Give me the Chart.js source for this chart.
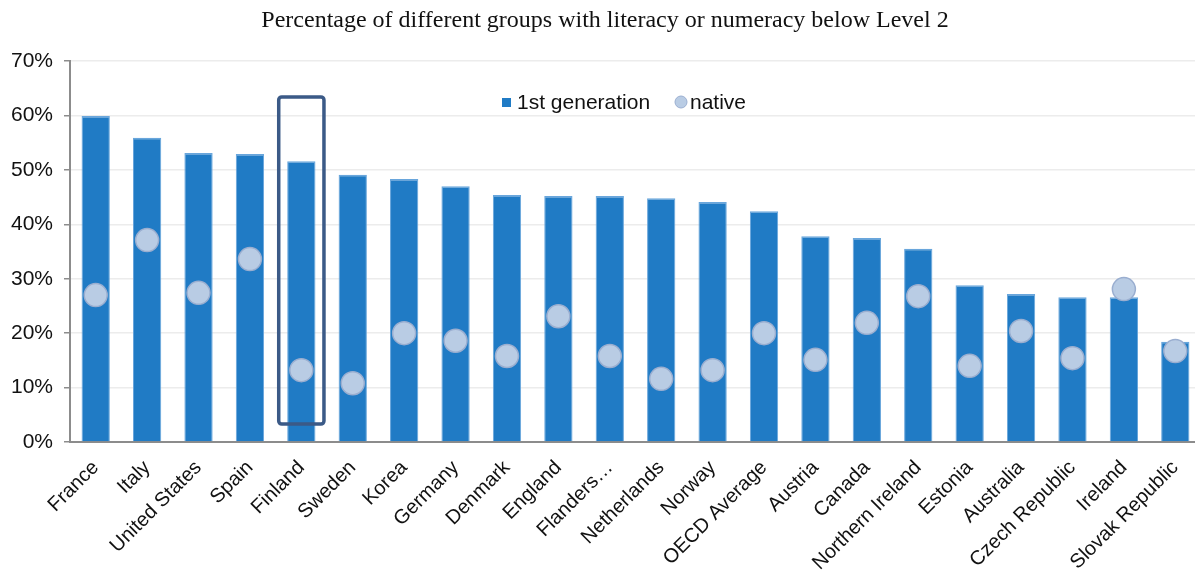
<!DOCTYPE html>
<html>
<head>
<meta charset="utf-8">
<script src="https://cdn.jsdelivr.net/npm/chart.js@4/dist/chart.umd.min.js"></script>
<style>
  html, body { margin: 0; padding: 0; background: #fff; overflow: hidden; }
  #wrap { width: 1195px; height: 577px; position: relative; overflow: hidden; }
</style>
</head>
<body>
<div id="wrap"><canvas id="c" width="1214" height="577"></canvas></div>
<script>
const titleText = 'Percentage of different groups with literacy or numeracy below Level 2';
const categories = ['France', 'Italy', 'United States', 'Spain', 'Finland', 'Sweden', 'Korea', 'Germany',
  'Denmark', 'England', 'Flanders…', 'Netherlands', 'Norway', 'OECD Average', 'Austria', 'Canada',
  'Northern Ireland', 'Estonia', 'Australia', 'Czech Republic', 'Ireland', 'Slovak Republic'];
const firstGeneration = [59.9, 55.9, 53.1, 52.9, 51.6, 49.1, 48.3, 47.0, 45.4, 45.2, 45.2, 44.8, 44.1,
  42.4, 37.8, 37.5, 35.5, 28.8, 27.2, 26.6, 26.6, 18.4];
const native = [27.0, 37.1, 27.4, 33.6, 13.2, 10.8, 20.0, 18.6, 15.8, 23.1, 15.8, 11.6, 13.2,
  20.0, 15.1, 21.9, 26.8, 14.0, 20.4, 15.4, 28.1, 16.7];
const seriesNames = ['1st generation', 'native'];
const yTicks = [0, 10, 20, 30, 40, 50, 60, 70];
const highlightCategory = 'Finland';
const highlightRange = [3.3, 63.4];

const BAR_COLOR = '#207bc5';
const BAR_EDGE = '#69a6dc';
const PT_FILL = '#b9cce4';
const PT_EDGE = '#9aaed0';
const SANS = '"Liberation Sans", Arial, sans-serif';

const overlayPlugin = {
  id: 'overlay',
  afterDatasetsDraw(chart) {
    const ctx = chart.ctx;
    const xs = chart.scales.x, ys = chart.scales.y;
    const idx = categories.indexOf(highlightCategory);
    const cx = xs.getPixelForValue(idx);
    const half = (xs.getPixelForValue(1) - xs.getPixelForValue(0)) * 0.44;
    const top = ys.getPixelForValue(highlightRange[1]);
    const bot = ys.getPixelForValue(highlightRange[0]);
    ctx.save();
    ctx.strokeStyle = '#3b5a87';
    ctx.lineWidth = 3.5;
    ctx.beginPath();
    if (ctx.roundRect) ctx.roundRect(cx - half, top, half * 2, bot - top, 3);
    else ctx.rect(cx - half, top, half * 2, bot - top);
    ctx.stroke();
    ctx.restore();
  },
  afterDraw(chart) {
    const ctx = chart.ctx;
    ctx.save();
    // title
    ctx.fillStyle = '#111';
    ctx.font = '24px "Liberation Serif", "Times New Roman", serif';
    ctx.textAlign = 'center';
    ctx.textBaseline = 'middle';
    ctx.fillText(titleText, 605, 21);
    // legend
    ctx.font = '21px ' + SANS;
    ctx.textAlign = 'left';
    const ly = 103;
    ctx.fillStyle = BAR_COLOR;
    ctx.fillRect(502, ly - 5, 9, 9);
    ctx.fillStyle = '#111';
    ctx.fillText(seriesNames[0], 517, ly);
    ctx.beginPath();
    ctx.arc(681, ly - 1, 6, 0, Math.PI * 2);
    ctx.fillStyle = PT_FILL;
    ctx.fill();
    ctx.lineWidth = 1;
    ctx.strokeStyle = PT_EDGE;
    ctx.stroke();
    ctx.fillStyle = '#111';
    ctx.fillText(seriesNames[1], 690, ly);
    ctx.restore();
  }
};

new Chart(document.getElementById('c'), {
  data: {
    labels: categories,
    datasets: [
      {
        type: 'line',
        label: seriesNames[1],
        data: native,
        showLine: false,
        pointRadius: 11.5,
        pointHoverRadius: 11.5,
        pointBackgroundColor: PT_FILL,
        pointBorderColor: PT_EDGE,
        pointBorderWidth: 1.5,
        order: 0
      },
      {
        type: 'bar',
        label: seriesNames[0],
        data: firstGeneration,
        backgroundColor: BAR_COLOR,
        borderColor: BAR_EDGE,
        borderWidth: { top: 1.5, left: 1, right: 1, bottom: 0 },
        categoryPercentage: 1.0,
        barPercentage: 0.55,
        order: 1
      }
    ]
  },
  options: {
    responsive: false,
    animation: false,
    events: [],
    layout: { padding: { top: 61, right: 0, bottom: 0, left: 0 } },
    plugins: {
      legend: { display: false },
      title: { display: false },
      tooltip: { enabled: false }
    },
    scales: {
      x: {
        grid: { display: false, drawTicks: false },
        border: { color: '#8c8c8c', width: 2 },
        ticks: {
          color: '#111',
          font: { family: SANS, size: 20 },
          minRotation: 45,
          maxRotation: 45,
          autoSkip: false,
          padding: 14
        },
        afterFit(s) { s.height = 135; s.paddingRight = 0; }
      },
      y: {
        min: 0,
        max: 70,
        afterBuildTicks(s) { s.ticks = yTicks.map(v => ({ value: v })); },
        grid: { color: '#ececec', lineWidth: 1.5, tickLength: 6, tickColor: '#8c8c8c', tickWidth: 1.5 },
        border: { color: '#8c8c8c', width: 2 },
        ticks: {
          color: '#111',
          font: { family: SANS, size: 21 },
          padding: 11,
          callback: v => v + '%'
        },
        afterFit(s) { s.width = 70; }
      }
    }
  },
  plugins: [overlayPlugin]
});
</script>
</body>
</html>
